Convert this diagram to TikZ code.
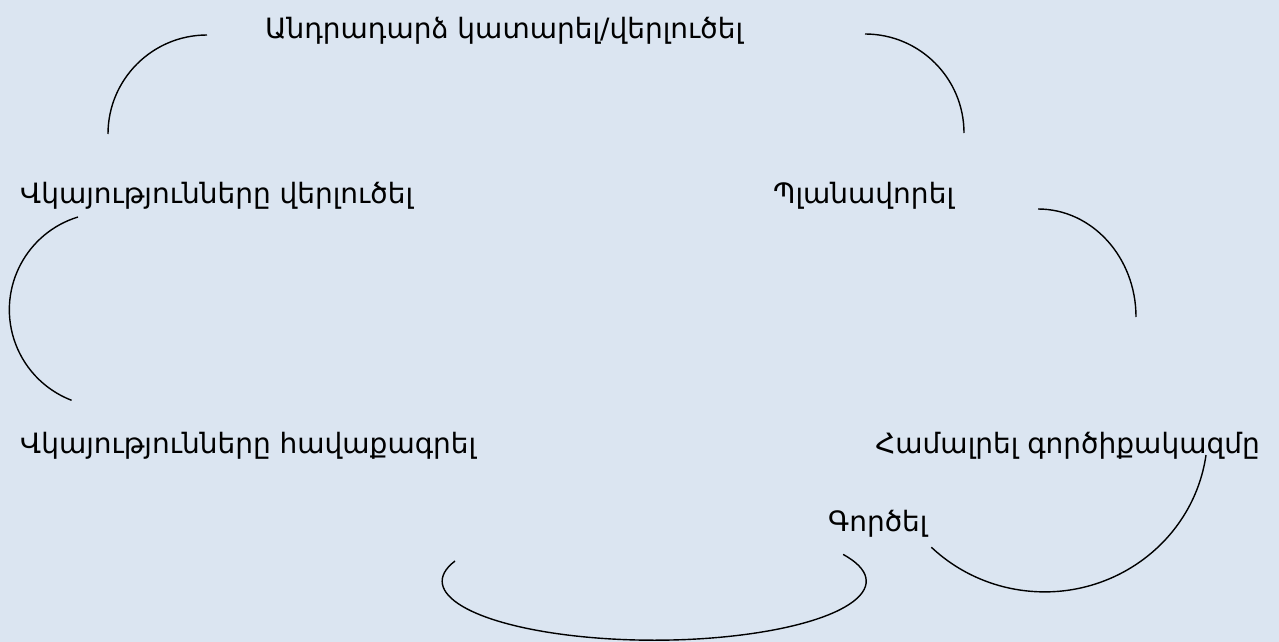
\documentclass[tikz,border=0pt]{standalone}
\usepackage{fontspec}
\setmainfont{DejaVu Sans}
\usepackage{tikz}
\definecolor{bgblue}{HTML}{DBE5F1}

\begin{document}
\begin{tikzpicture}[x=1pt, y=1pt,
    stagetext/.style={inner sep=0pt, font=\fontsize{28}{32}\selectfont},
    cycarc/.style={line width=1.4pt}]
    \fill[bgblue] (0,0) rectangle (1279,-642);
    \useasboundingbox (0,0) rectangle (1279,-642);

    \node[stagetext, anchor=base west] (reflect) at (265,-39) {Անդրադարձ կատարել/վերլուծել};
    \node[stagetext, anchor=base west] (analyse) at (20,-203) {Վկայությունները վերլուծել};
    \node[stagetext, anchor=base west] (plan) at (773,-203) {Պլանավորել};
    \node[stagetext, anchor=base west] (collect) at (20,-453) {Վկայությունները հավաքագրել};
    \node[stagetext, anchor=base east] (toolkit) at (1260,-453) {Համալրել գործիքակազմը};
    \node[stagetext, anchor=base west] (act) at (828,-531) {Գործել};

    \coordinate (arcA) at (207,-35);
    \coordinate (arcB) at (865,-34);
    \coordinate (arcC) at (78,-217);
    \coordinate (arcD) at (455,-561);
    \coordinate (arcE) at (1206,-455);
    \coordinate (arcF) at (1038,-209);

    \draw[cycarc] (arcA) arc[start angle=90, end angle=180, radius=99];
    \draw[cycarc] (arcB) arc[start angle=90, end angle=0, radius=99];
    \draw[cycarc] (arcC) arc[start angle=107, end angle=249, radius=97];
    \draw[cycarc] (arcD) arc[start angle=160, end angle=387, x radius=212, y radius=59];
    \draw[cycarc] (arcE) arc[start angle=-8, end angle=-134, x radius=163, y radius=159];
    \draw[cycarc] (arcF) arc[start angle=90, end angle=0, x radius=98, y radius=108];
\end{tikzpicture}
\end{document}
